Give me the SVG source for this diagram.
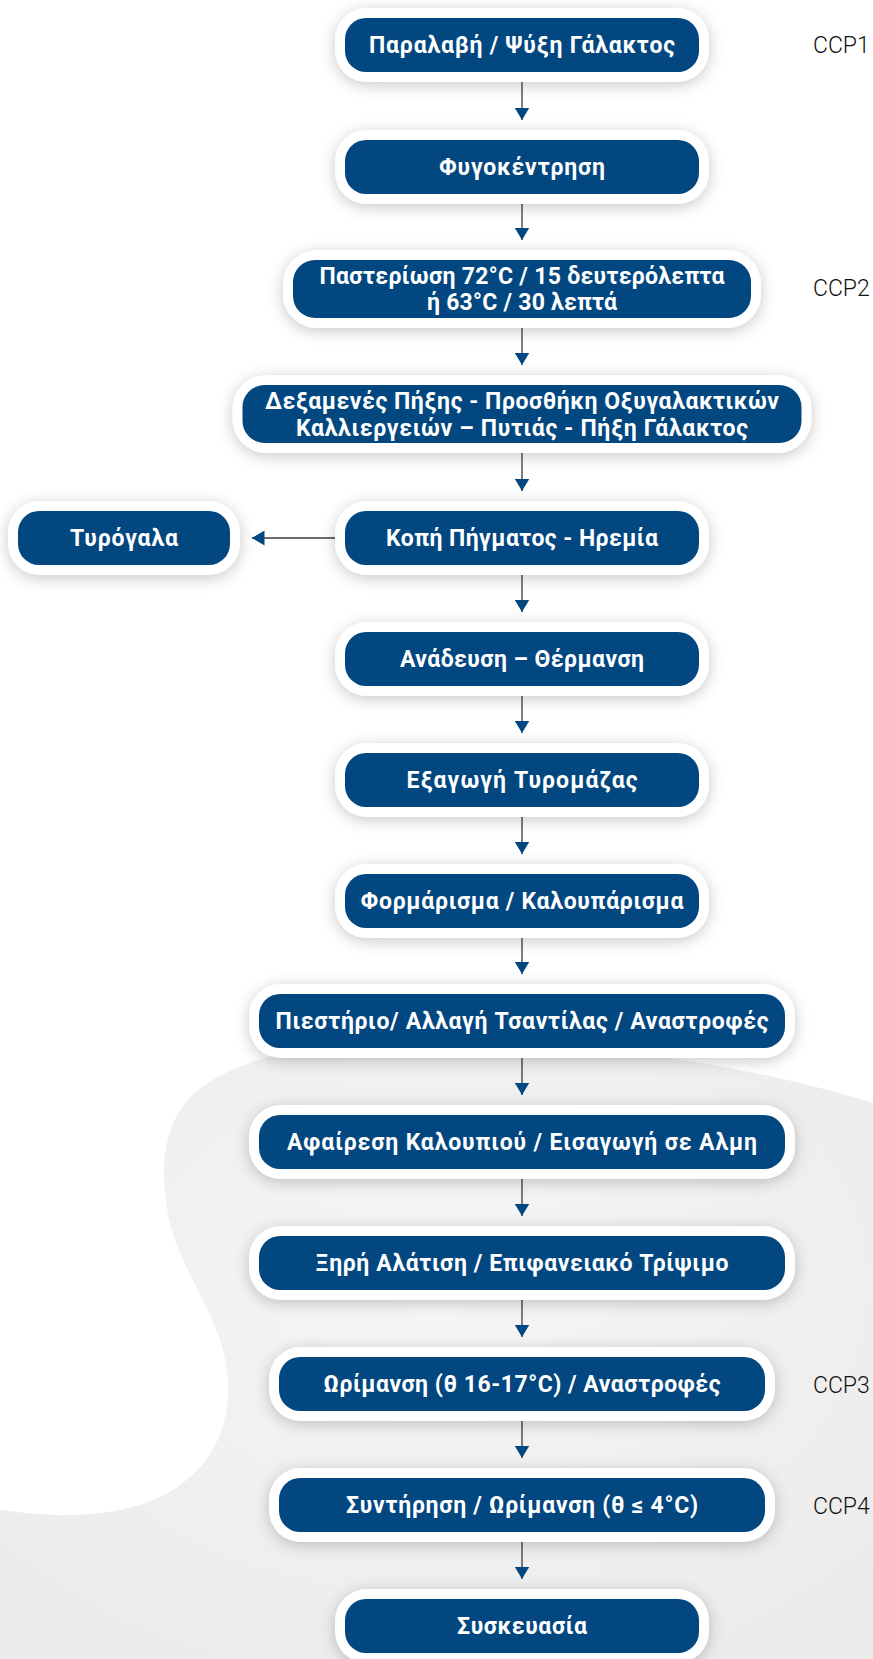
<svg xmlns="http://www.w3.org/2000/svg" width="873" height="1659" viewBox="0 0 873 1659">
<defs>
<filter id="sh" x="-20%" y="-60%" width="140%" height="220%">
<feDropShadow dx="0" dy="3" stdDeviation="7.5" flood-color="#000" flood-opacity="0.22"/>
</filter>
<radialGradient id="bg" cx="0.5" cy="0.4" r="0.7">
<stop offset="0" stop-color="#f6f6f6"/>
<stop offset="1" stop-color="#ebebeb"/>
</radialGradient>
<marker id="ah" viewBox="0 0 12.5 15" markerWidth="12.5" markerHeight="15" refX="12.5" refY="7.5" orient="auto" markerUnits="userSpaceOnUse">
<path d="M0,0 L12.5,7.5 L0,15 Z" fill="#02477f"/>
</marker>
</defs>
<style>
.o{fill:#fff;filter:url(#sh)}
.b{fill:#02477f}
.t{font-family:Roboto,"Noto Sans","DejaVu Sans",sans-serif;font-weight:700;font-size:23px;fill:#fff;text-anchor:middle}
.c{font-family:Roboto,"Noto Sans","DejaVu Sans",sans-serif;font-weight:300;font-size:23px;fill:#111}
.ln{stroke:#3a3a3a;stroke-width:1.3;fill:none;marker-end:url(#ah)}
</style>
<rect width="873" height="1659" fill="#fff"/>
<path d="M873,1103 C760,1068 600,1040 420,1040 C320,1040 250,1055 205,1085 C165,1112 158,1160 168,1215 C178,1270 225,1320 228,1380 C231,1440 200,1485 140,1505 C90,1520 40,1515 0,1510 L0,1659 L873,1659 Z" fill="url(#bg)"/>
<g id="connectors">
<line class="ln" x1="522" y1="82" x2="522" y2="120"/>
<line class="ln" x1="522" y1="204" x2="522" y2="240"/>
<line class="ln" x1="522" y1="328" x2="522" y2="365"/>
<line class="ln" x1="522" y1="453" x2="522" y2="491"/>
<line class="ln" x1="522" y1="575" x2="522" y2="612"/>
<line class="ln" x1="522" y1="696" x2="522" y2="733"/>
<line class="ln" x1="522" y1="817" x2="522" y2="854"/>
<line class="ln" x1="522" y1="938" x2="522" y2="974"/>
<line class="ln" x1="522" y1="1058" x2="522" y2="1095"/>
<line class="ln" x1="522" y1="1179" x2="522" y2="1216"/>
<line class="ln" x1="522" y1="1300" x2="522" y2="1337"/>
<line class="ln" x1="522" y1="1421" x2="522" y2="1458"/>
<line class="ln" x1="522" y1="1542" x2="522" y2="1579"/>
<line class="ln" x1="335" y1="538" x2="252" y2="538"/>
</g>
<g id="n1"><rect class="o" x="335" y="8" width="374" height="74" rx="32"/><rect class="b" x="345" y="18" width="354" height="54" rx="21"/><text class="t" x="522" y="53" textLength="306" lengthAdjust="spacing">Παραλαβή / Ψύξη Γάλακτος</text></g>
<g id="n2"><rect class="o" x="335" y="130" width="374" height="74" rx="32"/><rect class="b" x="345" y="140" width="354" height="54" rx="21"/><text class="t" x="522" y="175" textLength="166" lengthAdjust="spacing">Φυγοκέντρηση</text></g>
<g id="n3"><rect class="o" x="283" y="250" width="478" height="78" rx="34"/><rect class="b" x="293" y="260" width="458" height="58" rx="22"/><text class="t" x="522" y="284" textLength="405" lengthAdjust="spacing">Παστερίωση 72°C / 15 δευτερόλεπτα</text><text class="t" x="522" y="310" textLength="190" lengthAdjust="spacing">ή 63°C / 30 λεπτά</text></g>
<g id="n4"><rect class="o" x="232.5" y="375" width="579" height="78" rx="34"/><rect class="b" x="242.5" y="385" width="559" height="58" rx="22"/><text class="t" x="522" y="409" textLength="514" lengthAdjust="spacing">Δεξαμενές Πήξης - Προσθήκη Οξυγαλακτικών</text><text class="t" x="522" y="435.5" textLength="452" lengthAdjust="spacing">Καλλιεργειών – Πυτιάς - Πήξη Γάλακτος</text></g>
<g id="n5"><rect class="o" x="335" y="501" width="374" height="74" rx="32"/><rect class="b" x="345" y="511" width="354" height="54" rx="21"/><text class="t" x="522" y="546" textLength="272" lengthAdjust="spacing">Κοπή Πήγματος - Ηρεμία</text></g>
<g id="n5b"><rect class="o" x="8" y="501" width="232" height="74" rx="32"/><rect class="b" x="18" y="511" width="212" height="54" rx="21"/><text class="t" x="124" y="546" textLength="108" lengthAdjust="spacing">Τυρόγαλα</text></g>
<g id="n6"><rect class="o" x="335" y="622" width="374" height="74" rx="32"/><rect class="b" x="345" y="632" width="354" height="54" rx="21"/><text class="t" x="522" y="667" textLength="244" lengthAdjust="spacing">Ανάδευση – Θέρμανση</text></g>
<g id="n7"><rect class="o" x="335" y="743" width="374" height="74" rx="32"/><rect class="b" x="345" y="753" width="354" height="54" rx="21"/><text class="t" x="522" y="788" textLength="231" lengthAdjust="spacing">Εξαγωγή Τυρομάζας</text></g>
<g id="n8"><rect class="o" x="335" y="864" width="374" height="74" rx="32"/><rect class="b" x="345" y="874" width="354" height="54" rx="21"/><text class="t" x="522" y="909" textLength="323" lengthAdjust="spacing">Φορμάρισμα / Καλουπάρισμα</text></g>
<g id="n9"><rect class="o" x="249" y="984" width="546" height="74" rx="32"/><rect class="b" x="259" y="994" width="526" height="54" rx="21"/><text class="t" x="522" y="1029" textLength="493" lengthAdjust="spacing">Πιεστήριο/ Αλλαγή Τσαντίλας / Αναστροφές</text></g>
<g id="n10"><rect class="o" x="249" y="1105" width="546" height="74" rx="32"/><rect class="b" x="259" y="1115" width="526" height="54" rx="21"/><text class="t" x="522" y="1150" textLength="470" lengthAdjust="spacing">Αφαίρεση Καλουπιού / Εισαγωγή σε Αλμη</text></g>
<g id="n11"><rect class="o" x="249" y="1226" width="546" height="74" rx="32"/><rect class="b" x="259" y="1236" width="526" height="54" rx="21"/><text class="t" x="522" y="1271" textLength="413" lengthAdjust="spacing">Ξηρή Αλάτιση / Επιφανειακό Τρίψιμο</text></g>
<g id="n12"><rect class="o" x="269" y="1347" width="506" height="74" rx="32"/><rect class="b" x="279" y="1357" width="486" height="54" rx="21"/><text class="t" x="522" y="1392" textLength="397" lengthAdjust="spacing">Ωρίμανση (θ 16-17°C) / Αναστροφές</text></g>
<g id="n13"><rect class="o" x="269" y="1468" width="506" height="74" rx="32"/><rect class="b" x="279" y="1478" width="486" height="54" rx="21"/><text class="t" x="522" y="1513" textLength="352" lengthAdjust="spacing">Συντήρηση / Ωρίμανση (θ ≤ 4°C)</text></g>
<g id="n14"><rect class="o" x="335" y="1589" width="374" height="74" rx="32"/><rect class="b" x="345" y="1599" width="354" height="54" rx="21"/><text class="t" x="522" y="1634" textLength="130" lengthAdjust="spacing">Συσκευασία</text></g>
<g id="ccp">
<text class="c" x="813" y="53">CCP1</text>
<text class="c" x="813" y="296">CCP2</text>
<text class="c" x="813" y="1393">CCP3</text>
<text class="c" x="813" y="1514">CCP4</text>
</g>
</svg>
